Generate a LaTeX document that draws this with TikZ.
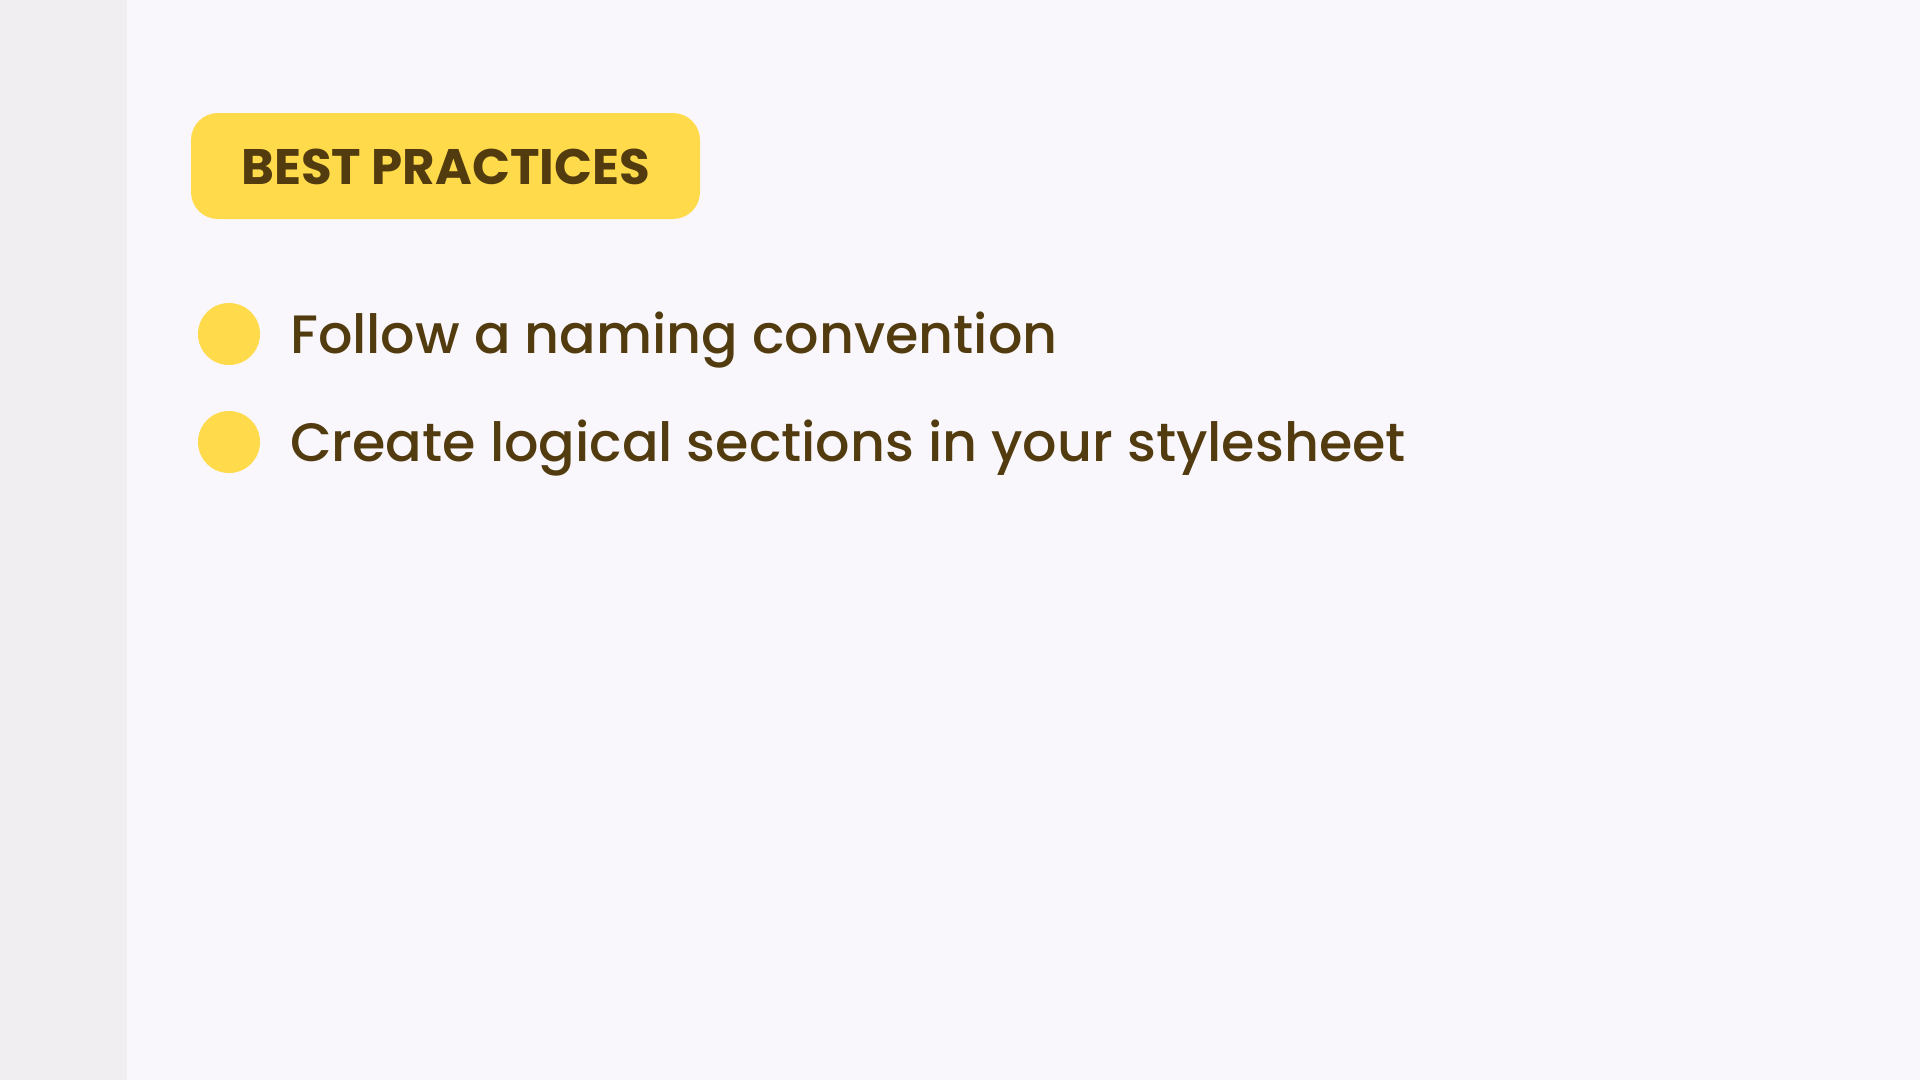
\documentclass[tikz,border=0pt]{standalone}
\usepackage{fontspec}
\setmainfont{Poppins}
\newfontfamily\poppinsmedium{Poppins Medium}
\definecolor{pagebg}{HTML}{F9F7FB}
\definecolor{sidebg}{HTML}{F0EEF1}
\definecolor{badgeyellow}{HTML}{FFDA4A}
\definecolor{browntext}{HTML}{523C0F}
\tikzset{
  badgebox/.style={fill=badgeyellow, rounded corners=27pt},
  bulletdot/.style={circle, fill=badgeyellow, minimum size=62pt, inner sep=0pt},
  itemtext/.style={anchor=base west, inner sep=0pt, text=browntext, font=\poppinsmedium\fontsize{54}{60}\selectfont},
  badgetext/.style={anchor=base west, inner sep=0pt, text=browntext, font=\fontsize{49.9}{55}\selectfont\bfseries}
}
\begin{document}
\begin{tikzpicture}[x=1pt,y=-1pt]
\useasboundingbox (0,0) rectangle (1920,1080);
\fill[pagebg] (0,0) rectangle (1920,1080);
\fill[sidebg] (0,0) rectangle (127,1080);
\fill[badgebox] (191,113) rectangle (700,219);
\node[badgetext] (badge) at (241,184) {BEST PRACTICES};
\node[bulletdot] (b1) at (229,334) {};
\node[bulletdot] (b2) at (229,442) {};
\node[itemtext] (t1) at (290,353) {Follow a naming convention};
\node[itemtext] (t2) at (290,461) {Create logical sections in your stylesheet};
\end{tikzpicture}
\end{document}
